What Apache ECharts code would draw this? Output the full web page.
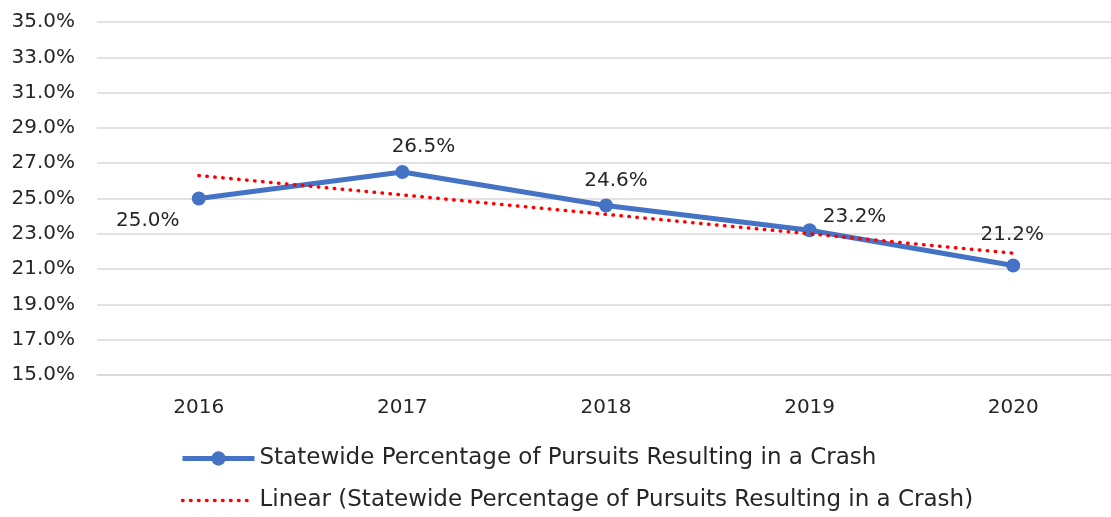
<!DOCTYPE html>
<html>
<head>
<meta charset="utf-8">
<script src="https://cdn.jsdelivr.net/npm/echarts@6/dist/echarts.min.js"></script>
<style>
  html, body { margin: 0; padding: 0; background: #fff; }
  #chart { width: 1111px; height: 517px; }
</style>
</head>
<body>
<div id="chart"></div>
<script>
const years = ['2016', '2017', '2018', '2019', '2020']
// statewide % of pursuits resulting in a crash
const crashPct = [25.0, 26.5, 24.6, 23.2, 21.2]
// excel linear trendline
const trendPct = [26.3, 25.2, 24.1, 23.0, 21.9]
const yTicks = { min: 15, max: 35, step: 2 }

const seriesName = 'Statewide Percentage of Pursuits Resulting in a Crash'
const trendName = 'Linear (Statewide Percentage of Pursuits Resulting in a Crash)'

// label placement per point (excel puts them a bit all over)
const labelOffsets = [[-51, 22], [21, -25], [10, -25], [45, -13], [-1, -31]]

const font = 'DejaVu Sans'
const textColor = '#262626'
const blue = '#4472C4'
const red = '#ff0000'

const chart = echarts.init(document.getElementById('chart'))

chart.setOption({
  animation: false,
  textStyle: { fontFamily: font },
  grid: {
    left: 97,
    width: 1018,
    top: 22,
    bottom: 142,
    outerBoundsMode: 'none'
  },
  legend: {
    orient: 'vertical',
    left: 175,
    top: 442,
    itemWidth: 72,
    itemHeight: 18,
    itemGap: 19,
    textStyle: { fontFamily: font, fontSize: 23, color: textColor },
    data: [
      {
        name: seriesName,
        lineStyle: { width: 5, color: blue },
        itemStyle: { color: blue }
      },
      {
        name: trendName,
        lineStyle: { width: 3.5, color: red, type: [0.5, 7.5], cap: 'round' },
        itemStyle: { color: 'transparent', borderWidth: 0 }
      }
    ]
  },
  xAxis: {
    type: 'category',
    data: years,
    axisTick: { show: false },
    axisLine: { lineStyle: { color: '#d9d9d9', width: 1.5 } },
    axisLabel: { fontSize: 20, color: textColor, margin: 23, fontFamily: font }
  },
  yAxis: {
    type: 'value',
    min: yTicks.min,
    max: yTicks.max,
    interval: yTicks.step,
    axisLine: { show: false },
    axisTick: { show: false },
    splitLine: { lineStyle: { color: '#d9d9d9', width: 1.5 } },
    axisLabel: {
      fontSize: 20,
      color: textColor,
      margin: 22,
      fontFamily: font,
      formatter: v => v.toFixed(1) + '%'
    }
  },
  series: [
    {
      name: seriesName,
      type: 'line',
      z: 3,
      data: crashPct.map((v, i) => ({
        value: v,
        label: { offset: labelOffsets[i] }
      })),
      symbol: 'circle',
      symbolSize: 14,
      lineStyle: { color: blue, width: 5 },
      itemStyle: { color: blue },
      label: {
        show: true,
        position: 'inside',
        fontSize: 20,
        color: textColor,
        fontFamily: font,
        formatter: p => p.value.toFixed(1) + '%'
      }
    },
    {
      name: trendName,
      type: 'line',
      z: 4,
      data: trendPct,
      symbol: 'none',
      lineStyle: { color: red, width: 3.5, type: [0.5, 7.5], cap: 'round' },
      itemStyle: { color: red }
    }
  ]
})
</script>
</body>
</html>
